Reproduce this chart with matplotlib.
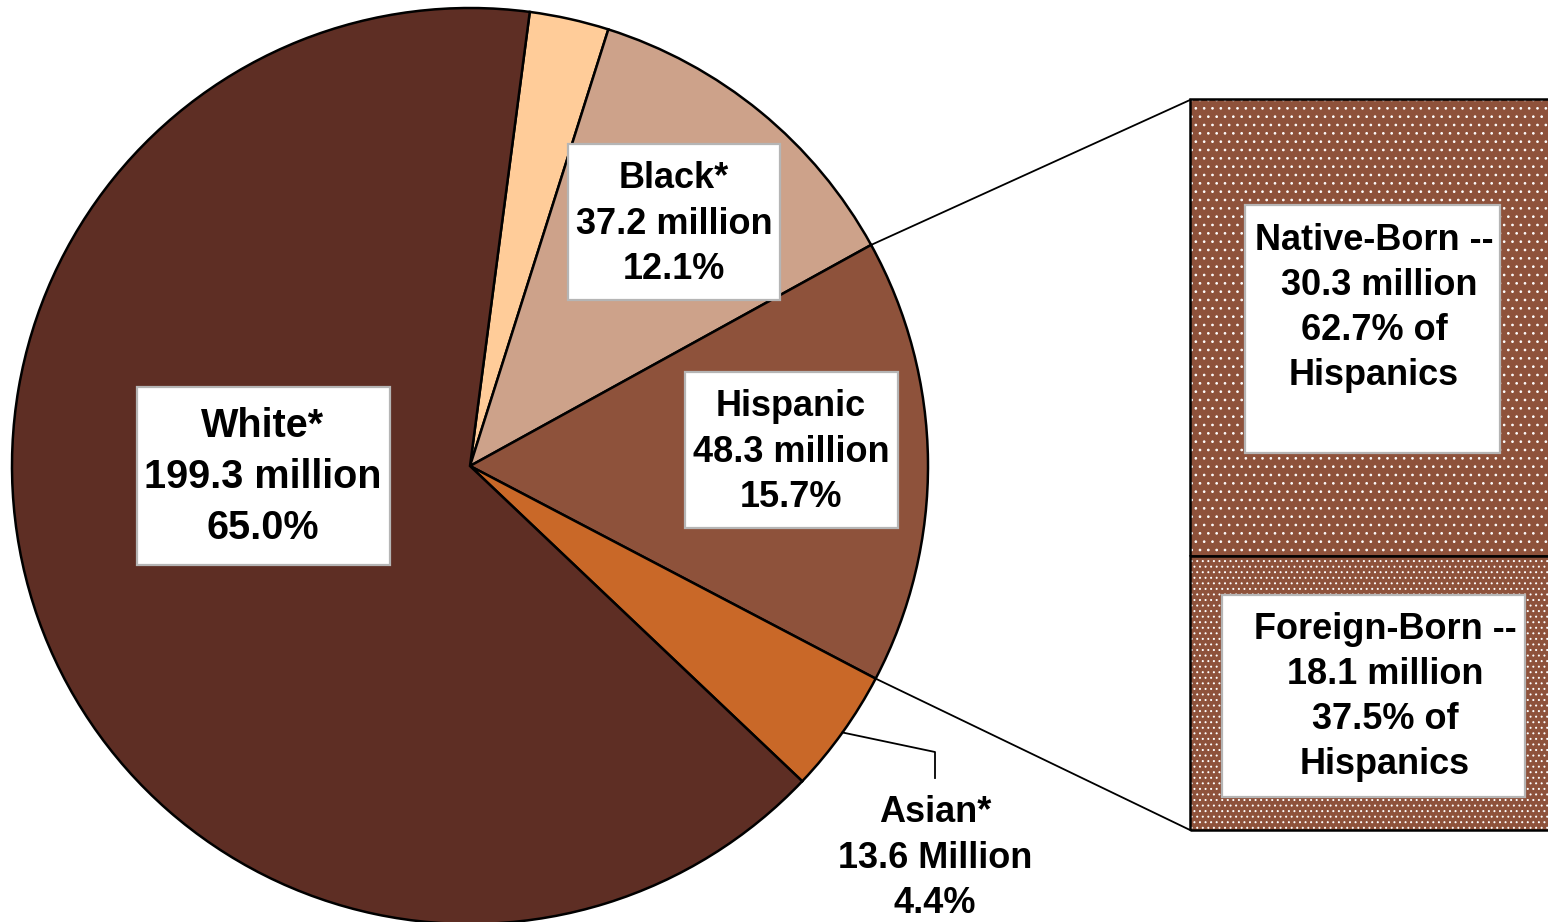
import numpy as np
import matplotlib.pyplot as plt
from matplotlib.patches import Rectangle

plt.rcParams['font.family'] = ['Liberation Sans', 'DejaVu Sans']
plt.rcParams['hatch.linewidth'] = 0.7

# population shares (percent) in pie order, clockwise from the top
groups = ['Other', 'Black*', 'Hispanic', 'Asian*', 'White*']
millions = [None, 37.2, 48.3, 13.6, 199.3]
shares = [12.1, 15.7, 4.4, 65.0]
shares = [round(100 - sum(shares), 1)] + shares
colors = ['#FFCC99', '#CDA28A', '#8E523B', '#C96828', '#5E2E24']

# Hispanic breakdown
sub_groups = ['Native-Born', 'Foreign-Born']
sub_millions = [30.3, 18.1]
sub_shares = [62.7, 37.5]

W, H = 1548, 922
fig = plt.figure(figsize=(W / 100, H / 100), dpi=100)
ax = fig.add_axes([0, 0, 1, 1])

cx, cy, r = 470, H - 466, 458
start = 82.5
ax.pie(shares, colors=colors, startangle=start, counterclock=False,
       center=(cx, cy), radius=r, frame=True,
       wedgeprops=dict(edgecolor='black', linewidth=1.8))
ax.set_xlim(0, W)
ax.set_ylim(0, H)
ax.set_aspect('equal')
ax.axis('off')

# slice boundary angles
cum = np.cumsum([0] + shares)
ang = start - cum * 3.6


def on_circle(a, rr=r):
    t = np.deg2rad(a)
    return cx + rr * np.cos(t), cy + rr * np.sin(t)


# stacked bar for the Hispanic split
bx, bw = 1190, 360
bbot, btop = H - 830, H - 100
scale = (btop - bbot) / 100.0
hatches = ['..', '...']
bottoms = [bbot + sub_shares[1] * scale, bbot]
for i in range(2):
    ax.bar(bx, sub_shares[i] * scale, width=bw, bottom=bottoms[i], align='edge',
           color='#8E523B', edgecolor='white', linewidth=0, hatch=hatches[i])
    ax.bar(bx, sub_shares[i] * scale, width=bw, bottom=bottoms[i], align='edge',
           fill=False, edgecolor='black', linewidth=1.8)

# connector lines from the Hispanic slice to the bar
p_top = on_circle(ang[2])
p_bot = on_circle(ang[3])
ax.plot([p_top[0], bx], [p_top[1], btop], color='black', lw=1.3)
ax.plot([p_bot[0], bx], [p_bot[1], bbot], color='black', lw=1.3)

# Asian leader line
pa = on_circle((ang[3] + ang[4]) / 2)
ax.plot([pa[0], 935, 935], [pa[1], H - 752, H - 778], color='black', lw=1.3)


def boxed(x0, y0, x1, y1):
    ax.add_patch(Rectangle((x0, H - y1), x1 - x0, y1 - y0, facecolor='white',
                           edgecolor='#b5b5b5', linewidth=1.6, zorder=5))


def label(x, y, s, size=26, ls=1.38):
    ax.text(x, H - y, s, ha='center', va='center', fontsize=size,
            fontweight='bold', linespacing=ls, zorder=6)


boxed(137, 387, 390, 565)
label(263, 477, f"{groups[4]}\n{millions[4]} million\n{shares[4]:.1f}%", size=28.5, ls=1.42)

boxed(568, 144, 780, 300)
label(674, 224, f"{groups[1]}\n{millions[1]} million\n{shares[1]:.1f}%")

boxed(685, 372, 898, 528)
label(791, 452, f"{groups[2]}\n{millions[2]} million\n{shares[2]:.1f}%")

label(935, 858, f"{groups[3]}\n{millions[3]} Million\n{shares[3]:.1f}%")

boxed(1245, 205, 1500, 453)
label(1374, 308, f"{sub_groups[0]} --\n {sub_millions[0]} million\n{sub_shares[0]}% of\nHispanics")

boxed(1222, 595, 1525, 797)
label(1385, 697, f"{sub_groups[1]} --\n{sub_millions[1]} million\n{sub_shares[1]}% of\nHispanics")

fig.savefig('out.png', dpi=100)
